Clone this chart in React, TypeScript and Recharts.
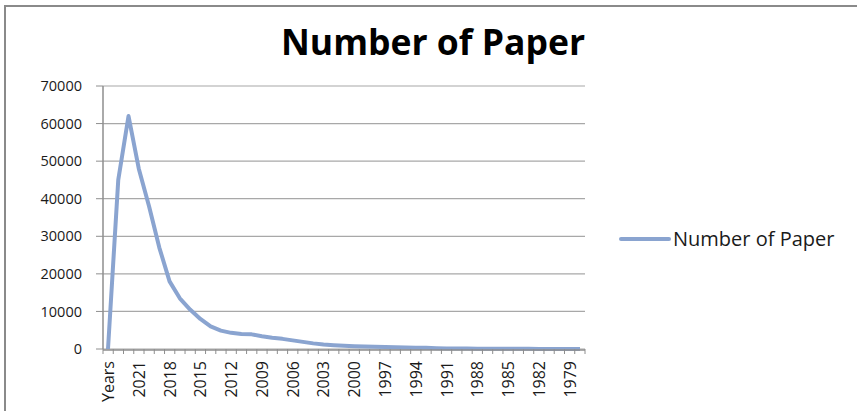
import React from 'react';
import { LineChart, Line, XAxis, YAxis, CartesianGrid, Legend } from 'recharts';

const categories: string[] = [
  'Years', '2023', '2022', '2021', '2020', '2019', '2018', '2017', '2016', '2015',
  '2014', '2013', '2012', '2011', '2010', '2009', '2008', '2007', '2006', '2005',
  '2004', '2003', '2002', '2001', '2000', '1999', '1998', '1997', '1996', '1995',
  '1994', '1993', '1992', '1991', '1990', '1989', '1988', '1987', '1986', '1985',
  '1984', '1983', '1982', '1981', '1980', '1979', '1978',
];

const paperCounts: number[] = [
  0, 45000, 62000, 48000, 38000, 27000, 18000, 13500, 10500, 8000,
  6000, 4900, 4300, 4000, 3900, 3400, 3000, 2700, 2300, 1900,
  1500, 1200, 1000, 850, 750, 650, 600, 500, 450, 400,
  350, 300, 200, 150, 120, 100, 90, 80, 70, 60,
  50, 40, 30, 25, 20, 15, 10,
];

const yTicks: number[] = [0, 10000, 20000, 30000, 40000, 50000, 60000, 70000];

const seriesName = 'Number of Paper';
const chartTitle = 'Number of Paper';

const data = categories.map((c, i) => ({ year: c, value: paperCounts[i], pos: i + 0.5 }));
const boundaryTicks = categories.map((_, i) => i).concat([categories.length]);

const FONT = '"Open Sans", sans-serif';
const LINE_COLOR = '#8aa4d0';
const AXIS_COLOR = '#8e8e8e';
const GRID_COLOR = '#a8a8a8';

const XTick = (props: any) => {
  const { x, y, payload } = props;
  return (
    <text
      x={x}
      y={y}
      transform={`rotate(-90, ${x}, ${y})`}
      textAnchor="end"
      dominantBaseline="central"
      fontFamily={FONT}
      fontSize={16}
      fill="#1a1a1a"
    >
      {payload.value}
    </text>
  );
};

const EmptyTick = () => <g />;

const LegendContent = (props: any) => {
  const { payload } = props;
  return (
    <div>
      {(payload || []).filter((p: any) => p.value === seriesName).map((p: any) => (
        <div key={p.value} style={{ display: 'flex', alignItems: 'center', fontFamily: FONT, fontSize: 20, color: '#1a1a1a', whiteSpace: 'nowrap' }}>
          <svg width={54} height={10} style={{ display: 'block' }}>
            <line x1={2} y1={5} x2={50} y2={5} stroke={p.color} strokeWidth={4} strokeLinecap="round" />
          </svg>
          <span style={{ lineHeight: '24px' }}>{p.value}</span>
        </div>
      ))}
    </div>
  );
};

export default function App() {
  return (
    <div style={{ position: 'absolute', left: 0, top: 0, width: 857, height: 411, background: '#fff', overflow: 'hidden' }}>
      <div style={{ position: 'absolute', left: 4, top: 5, right: 0, bottom: 0, borderLeft: '2px solid #8a8a8a', borderTop: '2px solid #8a8a8a' }} />
      <div style={{ position: 'absolute', left: 0, top: 24, width: 866, textAlign: 'center', fontFamily: FONT, fontWeight: 700, fontSize: 35.5, lineHeight: '34px', color: '#000' }}>
        {chartTitle}
      </div>
      <div style={{ position: 'absolute', left: 0, top: 0 }}>
        <LineChart width={857} height={411} data={data} margin={{ top: 86, right: 272, bottom: 0, left: 0 }}>
          <CartesianGrid vertical={false} stroke={GRID_COLOR} strokeWidth={1.2} xAxisId="main" />
          <XAxis
            xAxisId="bounds"
            type="number"
            dataKey="pos"
            domain={[0, categories.length]}
            ticks={boundaryTicks}
            interval={0}
            height={1}
            axisLine={false}
            tickLine={{ stroke: AXIS_COLOR }}
            tickSize={5}
            tick={EmptyTick}
            allowDataOverflow
          />
          <XAxis
            xAxisId="main"
            dataKey="year"
            interval={2}
            height={61}
            padding={{ left: 5, right: 5 }}
            axisLine={{ stroke: AXIS_COLOR, strokeWidth: 1.5 }}
            tickLine={false}
            tickSize={0}
            tickMargin={11}
            tick={<XTick />}
          />
          <YAxis
            domain={[0, 70000]}
            ticks={yTicks}
            width={103}
            axisLine={{ stroke: AXIS_COLOR, strokeWidth: 1.5 }}
            tickLine={{ stroke: AXIS_COLOR }}
            tickSize={7}
            tickMargin={14}
            tick={{ fontFamily: FONT, fontSize: 14.5, fill: '#1a1a1a' }}
            allowDecimals={false}
          />
          <Legend
            layout="horizontal"
            verticalAlign="middle"
            align="center"
            content={<LegendContent />}
            wrapperStyle={{ position: 'absolute', left: 619, top: 227, width: 240 }}
          />
          <Line
            xAxisId="bounds"
            type="linear"
            dataKey="value"
            name="_bounds"
            stroke="none"
            strokeWidth={0}
            dot={false}
            activeDot={false}
            legendType="none"
            isAnimationActive={false}
          />
          <Line
            xAxisId="main"
            type="linear"
            dataKey="value"
            name={seriesName}
            stroke={LINE_COLOR}
            strokeWidth={4}
            strokeLinejoin="round"
            dot={false}
            activeDot={false}
            isAnimationActive={false}
          />
        </LineChart>
      </div>
    </div>
  );
}
